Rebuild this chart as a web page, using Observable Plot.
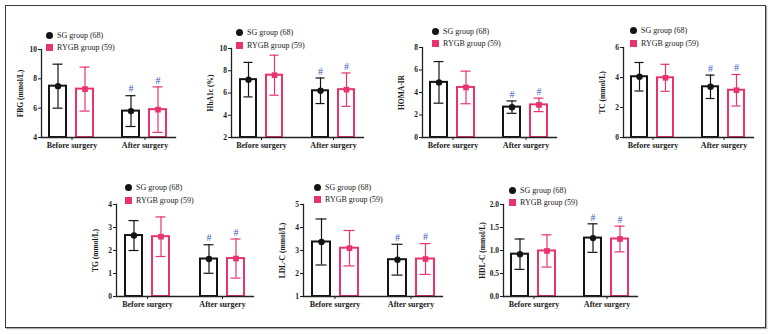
<!DOCTYPE html>
<html>
<head>
<meta charset="utf-8">
<script src="https://cdn.jsdelivr.net/npm/d3@7"></script>
<script src="https://cdn.jsdelivr.net/npm/@observablehq/plot@0.6"></script>
<style>
  body { margin: 0; background: #fff; }
  #fig { position: relative; width: 772px; height: 334px; overflow: hidden; font-family: "Liberation Serif", serif; }
  #border { position: absolute; left: 5px; top: 5px; width: 759px; height: 321px; border: 1.5px solid #3a3a3a; box-shadow: 1px 1px 1px #aaa; }
  .panel { position: absolute; }
  .legend { position: absolute; font-size: 8px; color: #222; }
  .legend .row { display: flex; align-items: center; height: 12.5px; white-space: nowrap; }
  .legend .sym { width: 7px; height: 7px; margin-right: 4.5px; flex: none; }
</style>
</head>
<body>
<div id="fig"><div id="border"></div></div>
<script>
// Categories and series
const periods = ["Before surgery", "After surgery"];
const groups = ["SG", "RYGB"];
const groupLabels = ["SG group (68)", "RYGB group (59)"];
const groupColors = ["#141414", "#e8336e"];
const groupShapes = ["circle", "square"];

// Axis titles and tick values, one entry per panel
const yLabels = ["FBG (mmol/L)", "HbA1c (%)", "HOMA-IR", "TC (mmol/L)", "TG (mmol/L)", "LDL-C (mmol/L)", "HDL-C (mmol/L)"];
const yTicks = [
  [4, 6, 8, 10],
  [2, 4, 6, 8, 10],
  [0, 2, 4, 6, 8],
  [0, 2, 4, 6],
  [0, 1, 2, 3, 4],
  [1, 2, 3, 4, 5],
  [0, 0.5, 1, 1.5, 2]
];

// Mean and SD, ordered: SG before, RYGB before, SG after, RYGB after
const fbgMean = [7.5, 7.3, 5.8, 5.9];
const fbgSd = [1.5, 1.5, 1.05, 1.55];
const hba1cMean = [7.2, 7.6, 6.2, 6.3];
const hba1cSd = [1.55, 1.8, 1.15, 1.5];
const homaMean = [4.9, 4.45, 2.7, 2.9];
const homaSd = [1.85, 1.45, 0.55, 0.6];
const tcMean = [4.05, 3.98, 3.38, 3.15];
const tcSd = [0.95, 0.9, 0.78, 1.05];
const tgMean = [2.65, 2.6, 1.63, 1.65];
const tgSd = [0.65, 0.86, 0.62, 0.85];
const ldlMean = [3.37, 3.1, 2.6, 2.63];
const ldlSd = [1.0, 0.77, 0.67, 0.67];
const hdlMean = [0.92, 0.99, 1.27, 1.25];
const hdlSd = [0.33, 0.35, 0.31, 0.28];

// Significance versus before surgery
const sigMarks = ["", "", "#", "#"];

const means = [fbgMean, hba1cMean, homaMean, tcMean, tgMean, ldlMean, hdlMean];
const sds = [fbgSd, hba1cSd, homaSd, tcSd, tgSd, ldlSd, hdlSd];

// Page placement of each panel's plotting frame (pixels) and its legend anchor
const frames = [
  {axis: 40,  end: 175, top: 49,  bottom: 137, legend: [49, 35]},
  {axis: 230, end: 363, top: 48,  bottom: 137, legend: [239, 32.5]},
  {axis: 421, end: 556, top: 47,  bottom: 137, legend: [435, 31]},
  {axis: 622, end: 753, top: 47,  bottom: 137, legend: [633, 30.5]},
  {axis: 116, end: 254, top: 204, bottom: 296, legend: [128, 187.5]},
  {axis: 303, end: 443, top: 204, bottom: 296, legend: [317, 187]},
  {axis: 503, end: 637, top: 204, bottom: 296, legend: [512, 190]}
];

const fig = document.getElementById("fig");
const mL = 30, mR = 6, mT = 5, mB = 20;

function drawPanel(i) {
  const f = frames[i];
  const ticks = yTicks[i];
  const rows = [];
  periods.forEach((period, pi) => groups.forEach((group, gi) => {
    const k = pi * 2 + gi;
    rows.push({period, group, mean: means[i][k], sd: sds[i][k], sig: sigMarks[k]});
  }));
  const y0 = d3.min(ticks), y1 = d3.max(ticks);
  const fmt = ticks.some(t => !Number.isInteger(t)) ? d3.format(".1f") : d3.format("d");
  const pos = {fx: "period", x: "group"};

  const chart = Plot.plot({
    width: f.end - f.axis + mL + mR,
    height: f.bottom - f.top + mT + mB,
    marginLeft: mL, marginRight: mR, marginTop: mT, marginBottom: mB,
    style: {fontFamily: "'Liberation Serif', serif", fontSize: "7.5px", fontWeight: "bold", color: "#1a1a1a", background: "none", overflow: "visible"},
    fx: {domain: periods, paddingInner: 0.17, paddingOuter: 0},
    x: {domain: groups, paddingInner: 0.37, paddingOuter: 0.31, axis: null},
    y: {domain: [y0, y1]},
    color: {domain: groups, range: groupColors},
    symbol: {domain: groups, range: groupShapes},
    marks: [
      Plot.barY(rows, {...pos, y1: () => y0, y2: "mean", fill: "white", stroke: "group", strokeWidth: 2}),
      Plot.ruleX(rows, {...pos, y1: d => d.mean - d.sd, y2: d => d.mean + d.sd, stroke: "group", strokeWidth: 1.2}),
      Plot.tickY(rows, {...pos, y: d => d.mean + d.sd, stroke: "group", strokeWidth: 1.2, insetLeft: 3.5, insetRight: 3.5}),
      Plot.tickY(rows, {...pos, y: d => d.mean - d.sd, stroke: "group", strokeWidth: 1.2, insetLeft: 3.5, insetRight: 3.5}),
      Plot.dot(rows, {...pos, y: "mean", symbol: "group", fill: "group", r: 3.2}),
      Plot.text(rows.filter(d => d.sig), {...pos, y: d => d.mean + d.sd, text: "sig", dy: -6.5, fill: "#3b5cbf", fontSize: 10, fontWeight: "normal"}),
      Plot.axisY({ticks, tickFormat: fmt, tickSize: 3, tickPadding: 1.5, label: yLabels[i], labelAnchor: "center", labelArrow: "none", labelOffset: 24, fontSize: 7.5}),
      Plot.axisFx({anchor: "bottom", tickSize: 3, tickPadding: 2, label: null, fontSize: 8}),
      Plot.frame({anchor: "left", facet: "super", stroke: "#222", strokeWidth: 1.3}),
      Plot.frame({anchor: "bottom", facet: "super", stroke: "#222", strokeWidth: 1.3})
    ]
  });
  chart.classList.add("panel");
  chart.style.left = (f.axis - mL) + "px";
  chart.style.top = (f.top - mT) + "px";
  fig.appendChild(chart);

  // Legend: filled circle for SG, filled square for RYGB
  const lg = document.createElement("div");
  lg.className = "legend";
  lg.style.left = (f.legend[0] - 3.5) + "px";
  lg.style.top = (f.legend[1] - 6.25) + "px";
  groupLabels.forEach((label, gi) => {
    const row = document.createElement("div");
    row.className = "row";
    const sym = document.createElement("div");
    sym.className = "sym";
    sym.style.background = groupColors[gi];
    if (groupShapes[gi] === "circle") sym.style.borderRadius = "50%";
    const txt = document.createElement("span");
    txt.textContent = label;
    row.appendChild(sym);
    row.appendChild(txt);
    lg.appendChild(row);
  });
  fig.appendChild(lg);
}

frames.forEach((_, i) => drawPanel(i));
</script>
</body>
</html>
